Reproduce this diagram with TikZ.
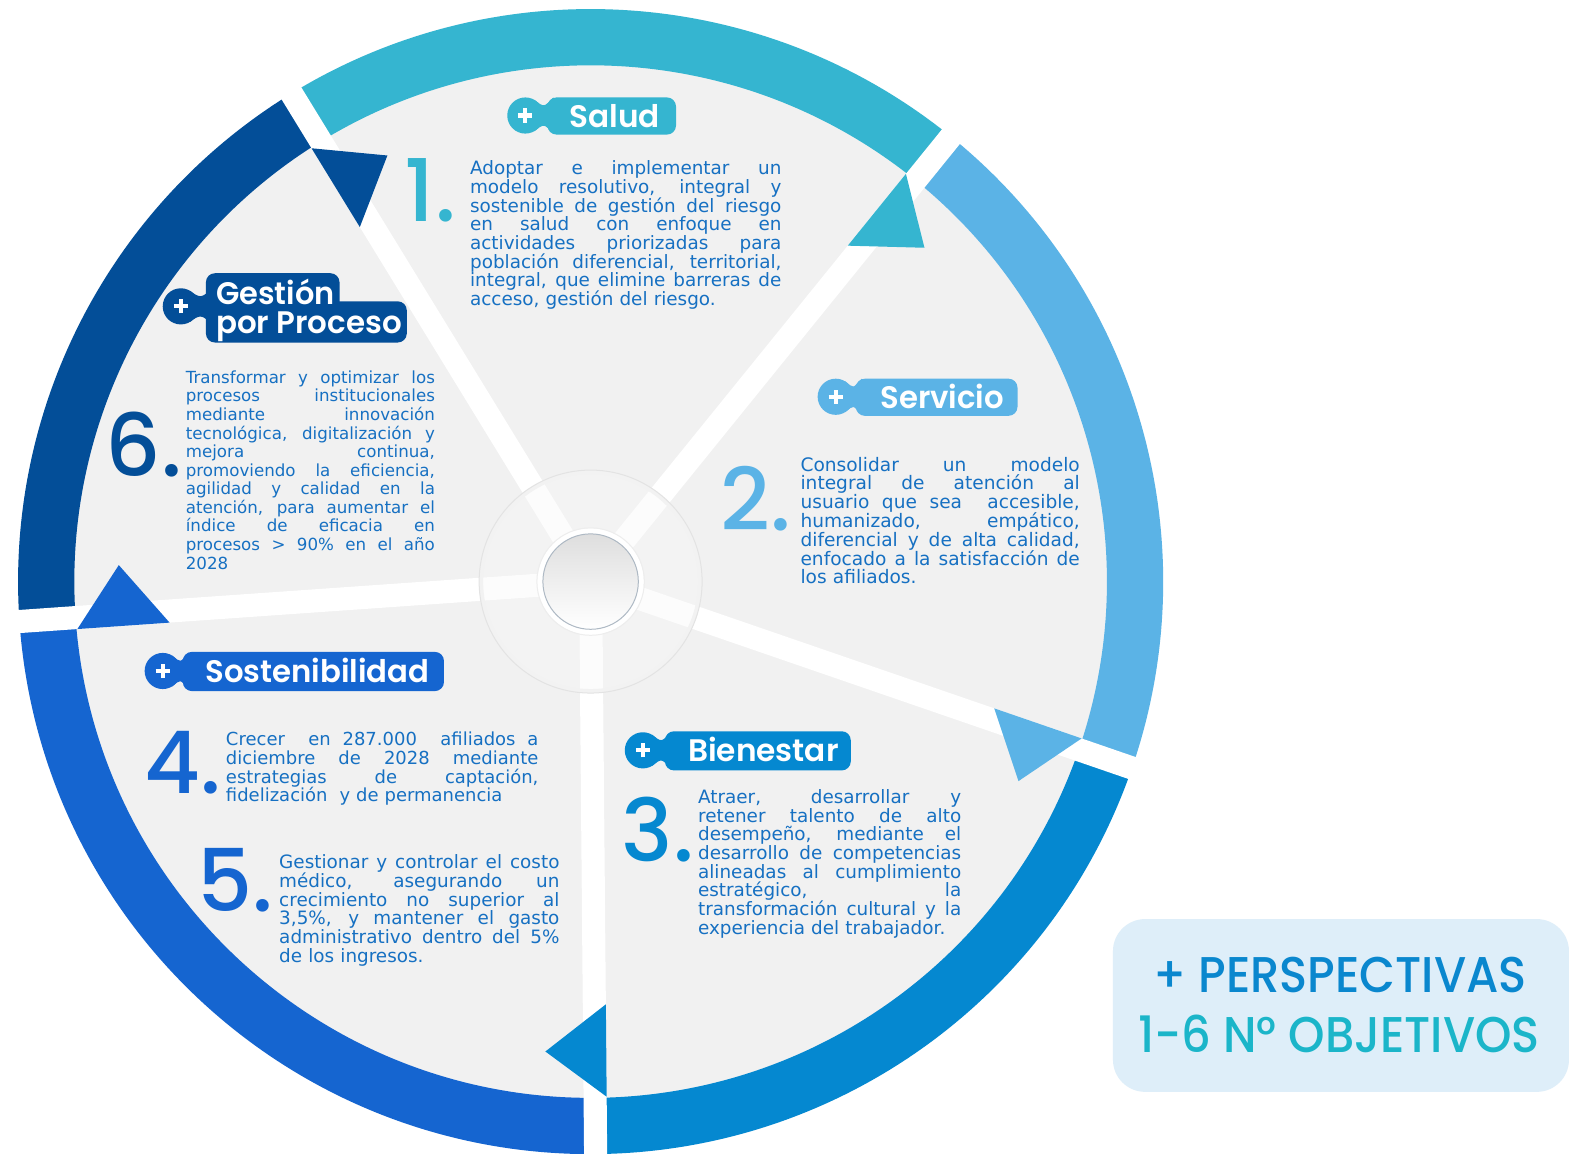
\documentclass[tikz,border=0pt]{standalone}
\usepackage{fontspec}
\usepackage{graphicx}
\usetikzlibrary{calc}
\setmainfont{DejaVu Sans}
\newfontfamily\labfont{Poppins SemiBold}
\newfontfamily\numfont{Poppins Medium}
\definecolor{tealc}{HTML}{35B5D0}
\definecolor{lblue}{HTML}{5BB3E6}
\definecolor{mblue}{HTML}{0588D0}
\definecolor{sblue}{HTML}{1565D0}
\definecolor{navy}{HTML}{034E98}
\definecolor{graybg}{HTML}{F1F1F1}
\definecolor{txtblue}{HTML}{1670C2}
\definecolor{legbg}{HTML}{DEEEF9}
\definecolor{legteal}{HTML}{1BB5C9}
\definecolor{legblue}{HTML}{0A87CE}
\definecolor{rimc}{HTML}{AEB9C4}
\setlength{\lineskiplimit}{-100pt}
\newsavebox\jlbox
\newcommand\jl[1]{\sbox\jlbox{\spaceskip=0pt\xspaceskip=0pt #1}\ifdim\wd\jlbox>\hsize\resizebox{\hsize}{\height}{\usebox\jlbox}\else\makebox[\hsize][s]{\spaceskip=0pt\xspaceskip=0pt #1}\fi}
% pill: color, cx, cy, x0, x1, ybottom, ytop
\newcommand\mkpill[7]{%
  \fill[#1] (#2,#3) circle[radius=18];
  \fill[#1] ({#2+9},{#3+15.6}) .. controls ({#2+19},{#3+8}) and ({#4-4},{#3+8}) .. ({#4+6},{#3+18})
     -- ({#4+6},{#3-18}) .. controls ({#4-4},{#3-8}) and ({#2+19},{#3-8}) .. ({#2+9},{#3-15.6}) -- cycle;
  \fill[#1, rounded corners=9] (#4,#6) rectangle (#5,#7);
  \draw[white, line width=4] ({#2-7},#3) -- ({#2+7},#3) (#2,{#3-7}) -- (#2,{#3+7});
}
\tikzset{
  spoke/.style={white, line width=23},
  ringseg/.style={line width=56},
  para/.style={anchor=north west, inner sep=0pt, outer sep=0pt, text width=#1, align=left, text=txtblue},
  pilltext/.style={anchor=base, inner sep=0pt, text=white, font=\labfont\fontsize{31}{31}\selectfont},
  bignum/.style={anchor=base west, inner sep=0pt, font=\numfont\fontsize{86}{86}\selectfont},
}
\begin{document}
\begin{tikzpicture}[x=1pt,y=1pt]
\useasboundingbox (-588,-569) rectangle (980,579);
\fill[white] (-588,-569) rectangle (980,579);
% gray disc
\fill[graybg] (0,0) circle[radius=516];
% ring segments
\draw[ringseg, tealc] (51:542) arc[start angle=51, end angle=121.5, radius=542];
\draw[ringseg, lblue] (-19:542) arc[start angle=-19, end angle=51, radius=542];
\draw[ringseg, mblue] (-89.5:542) arc[start angle=-89.5, end angle=-19, radius=542];
\draw[ringseg, sblue] (184:542) arc[start angle=184, end angle=270.5, radius=542];
\draw[ringseg, navy] (121.5:542) arc[start angle=121.5, end angle=184, radius=542];
% spokes
\foreach \a in {121.5,51,-19,-89.5,184} \draw[spoke] (0,0) -- (\a:600);
% arrowheads
\foreach \s/\c in {121.5/navy,51/tealc,-19/lblue,-89.5/mblue,184/sblue}
  \fill[\c] ($(\s:513)+({\s+90}:11.5)$) -- ($(\s:421)+({\s+90}:11.5)$) -- ({\s-6}:470) -- cycle;
% center
\fill[black!3, opacity=0.35] (0,0) circle[radius=111];
\draw[black!5, line width=4] (0,0) circle[radius=109];
\draw[black!11, line width=1] (0,0) circle[radius=111];
\fill[white] (0,0) circle[radius=53];
\draw[black!7, line width=1] (0,0) circle[radius=53.5];
\shade[top color=black!13, bottom color=white] (0,0) circle[radius=47.5];
\draw[rimc, line width=1] (0,0) circle[radius=47.5];
% pills
\mkpill{tealc}{-65}{464}{-43}{85}{445}{482}
\node[pilltext] (lsalud) at (24,452.5) {\resizebox{90pt}{\height}{Salud}};
\mkpill{lblue}{244}{184}{264}{425}{165}{202}
\node[pilltext] (lservicio) at (350,172.5) {\resizebox{123pt}{\height}{Servicio}};
\mkpill{mblue}{52}{-168}{74}{259}{-188}{-149}
\node[pilltext] (lbienestar) at (172,-179.5) {\resizebox{150pt}{\height}{Bienestar}};
\mkpill{sblue}{-426}{-89}{-406}{-146}{-109}{-70}
\node[pilltext] (lsost) at (-272,-100.5) {\resizebox{223pt}{\height}{Sostenibilidad}};
\mkpill{navy}{-408}{274}{-383}{-250}{269}{307}
\fill[navy, rounded corners=9] (-383,238) rectangle (-183,279);
\node[pilltext, anchor=base west] (lgestion) at (-373,276) {\resizebox{118pt}{\height}{Gestión}};
\node[pilltext, anchor=base west] (lproceso) at (-373,247) {\resizebox{185pt}{\height}{por Proceso}};
% big numbers
\node[bignum, text=tealc] (n1) at (-185,358) {1.};
\node[bignum, text=lblue] (n2) at (129,51) {2.};
\node[bignum, text=mblue] (n3) at (31,-279) {3.};
\node[bignum, text=sblue] (n4) at (-444,-211) {4.};
\node[bignum, text=sblue] (n5) at (-392,-328) {5.};
\node[bignum, text=navy] (n6) at (-483,105) {6.};
% paragraphs
\node[para=310pt, font=\fontsize{18.3}{18.6}\selectfont] (t1) at (-120,419) {%
\jl{Adoptar e implementar un}\\
\jl{modelo resolutivo, integral y}\\
\jl{sostenible de gestión del riesgo}\\
\jl{en salud con enfoque en}\\
\jl{actividades priorizadas para}\\
\jl{población diferencial, territorial,}\\
\jl{integral, que elimine barreras de}\\
acceso, gestión del riesgo.};
\node[para=248pt, font=\fontsize{16.6}{18.5}\selectfont] (t6) at (-403,210) {%
\jl{Transformar y optimizar los}\\
\jl{procesos institucionales}\\
\jl{mediante innovación}\\
\jl{tecnológica, digitalización y}\\
\jl{mejora continua,}\\
\jl{promoviendo la eficiencia,}\\
\jl{agilidad y calidad en la}\\
\jl{atención, para aumentar el}\\
\jl{índice de eficacia en}\\
\jl{procesos > 90\% en el año}\\
2028};
\node[para=278pt, font=\fontsize{18.5}{18.7}\selectfont] (t2) at (209,124) {%
\jl{Consolidar un modelo}\\
\jl{integral de atención al}\\
\jl{usuario que sea\ \ accesible,}\\
\jl{humanizado, empático,}\\
\jl{diferencial y de alta calidad,}\\
\jl{enfocado a la satisfacción de}\\
los afiliados.};
\node[para=262pt, font=\fontsize{18.3}{18.6}\selectfont] (t3) at (107,-207) {%
\jl{Atraer, desarrollar y}\\
\jl{retener talento de alto}\\
\jl{desempeño, mediante el}\\
\jl{desarrollo de competencias}\\
\jl{alineadas al cumplimiento}\\
\jl{estratégico, la}\\
\jl{transformación cultural y la}\\
experiencia del trabajador.};
\node[para=311pt, font=\fontsize{17.9}{18.6}\selectfont] (t4) at (-363,-150) {%
\jl{Crecer\ \ en 287.000\ \ afiliados a}\\
\jl{diciembre de 2028 mediante}\\
\jl{estrategias de captación,}\\
fidelización\ \ y de permanencia};
\node[para=279pt, font=\fontsize{18.3}{18.6}\selectfont] (t5) at (-310,-272) {%
\jl{Gestionar y controlar el costo}\\
\jl{médico, asegurando un}\\
\jl{crecimiento no superior al}\\
\jl{3,5\%, y mantener el gasto}\\
\jl{administrativo dentro del 5\%}\\
de los ingresos.};
% legend
\fill[legbg, rounded corners=32] (520,-508) rectangle (974,-336);
\node[anchor=base, inner sep=0pt, text=legblue, font=\numfont\fontsize{50}{50}\selectfont] (leg1) at (746,-409) {\resizebox{372pt}{\height}{+ PERSPECTIVAS}};
\node[anchor=base, inner sep=0pt, text=legteal, font=\numfont\fontsize{50}{50}\selectfont] (leg2) at (745,-469) {\resizebox{400pt}{\height}{1-6 N° OBJETIVOS}};
\end{tikzpicture}
\end{document}
